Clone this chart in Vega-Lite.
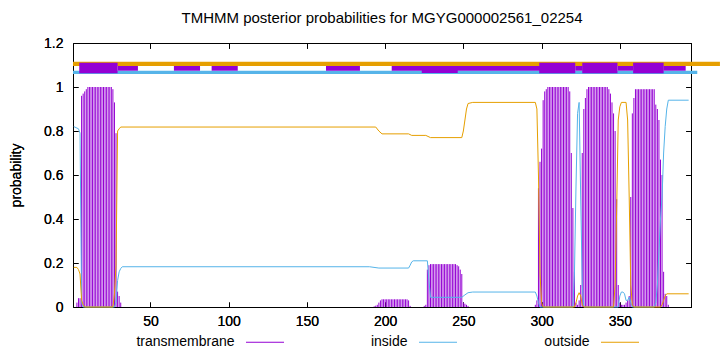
{
  "$schema": "https://vega.github.io/schema/vega-lite/v6.json",
  "width": 618,
  "height": 264,
  "autosize": {"type": "none"},
  "padding": {"left": 73, "top": 43, "right": 29, "bottom": 45},
  "background": "white",
  "title": {"text": "TMHMM posterior probabilities for MGYG000002561_02254", "font": "Liberation Sans", "fontSize": 15, "fontWeight": "normal", "color": "#000", "offset": 10, "anchor": "middle"},
  "config": {
    "view": {"stroke": "#000", "strokeWidth": 1},
    "axis": {"domain": false, "grid": false, "tickColor": "#000", "tickWidth": 1, "tickSize": -5, "labelFont": "Liberation Sans", "labelFontSize": 14, "labelColor": "#000", "titleFont": "Liberation Sans", "titleFontSize": 14, "titleFontWeight": "normal", "titleColor": "#000"}
  },
  "datasets": {
    "outsideBand": [{"a": 0.5, "b": 414, "y": 1.1055}],
    "insideBand": [{"a": 0.5, "b": 399.5, "y": 1.0668}],
    "thinBand": [
      {"a": 29, "b": 42, "lo": 1.0741, "hi": 1.0955},
      {"a": 65, "b": 81.7, "lo": 1.0741, "hi": 1.0955},
      {"a": 89.1, "b": 105.8, "lo": 1.0741, "hi": 1.0955},
      {"a": 162.2, "b": 183.9, "lo": 1.0741, "hi": 1.0955},
      {"a": 204.2, "b": 299.6, "lo": 1.0741, "hi": 1.0955},
      {"a": 223.4, "b": 246.4, "lo": 1.064, "hi": 1.0955},
      {"a": 321.5, "b": 326.3, "lo": 1.0741, "hi": 1.0955},
      {"a": 348.5, "b": 358.6, "lo": 1.0741, "hi": 1.0955},
      {"a": 377.8, "b": 392.1, "lo": 1.0741, "hi": 1.0955}
    ],
    "thickBand": [
      {"a": 4.5, "b": 29, "lo": 1.0623, "hi": 1.1105},
      {"a": 298.5, "b": 321.5, "lo": 1.0623, "hi": 1.1105},
      {"a": 326, "b": 348.5, "lo": 1.0623, "hi": 1.1105},
      {"a": 358.5, "b": 378, "lo": 1.0623, "hi": 1.1105}
    ],
    "tm": [
      {"pos": 3, "p": 0.02}, {"pos": 4, "p": 0.04}, {"pos": 5, "p": 0.04}, {"pos": 6, "p": 0.96}, {"pos": 7, "p": 0.97}, {"pos": 8, "p": 0.98}, {"pos": 9, "p": 0.99},
      {"pos": 10, "p": 1}, {"pos": 11, "p": 1}, {"pos": 12, "p": 1}, {"pos": 13, "p": 1}, {"pos": 14, "p": 1}, {"pos": 15, "p": 1}, {"pos": 16, "p": 1}, {"pos": 17, "p": 1},
      {"pos": 18, "p": 1}, {"pos": 19, "p": 1}, {"pos": 20, "p": 1}, {"pos": 21, "p": 1}, {"pos": 22, "p": 1}, {"pos": 23, "p": 1}, {"pos": 24, "p": 1}, {"pos": 25, "p": 1},
      {"pos": 26, "p": 0.99}, {"pos": 27, "p": 0.93}, {"pos": 28, "p": 0.79}, {"pos": 29, "p": 0.07}, {"pos": 30, "p": 0.05}, {"pos": 31, "p": 0.02},
      {"pos": 193, "p": 0.003}, {"pos": 194, "p": 0.006}, {"pos": 195, "p": 0.01}, {"pos": 196, "p": 0.02}, {"pos": 197, "p": 0.03},
      {"pos": 198, "p": 0.035}, {"pos": 199, "p": 0.035}, {"pos": 200, "p": 0.035}, {"pos": 201, "p": 0.035}, {"pos": 202, "p": 0.035}, {"pos": 203, "p": 0.035},
      {"pos": 204, "p": 0.035}, {"pos": 205, "p": 0.035}, {"pos": 206, "p": 0.035}, {"pos": 207, "p": 0.035}, {"pos": 208, "p": 0.035}, {"pos": 209, "p": 0.035},
      {"pos": 210, "p": 0.035}, {"pos": 211, "p": 0.035}, {"pos": 212, "p": 0.035}, {"pos": 213, "p": 0.035}, {"pos": 214, "p": 0.035}, {"pos": 215, "p": 0.03}, {"pos": 216, "p": 0.005},
      {"pos": 225, "p": 0.005}, {"pos": 226, "p": 0.01}, {"pos": 227, "p": 0.17}, {"pos": 228, "p": 0.19},
      {"pos": 229, "p": 0.195}, {"pos": 230, "p": 0.195}, {"pos": 231, "p": 0.195}, {"pos": 232, "p": 0.195}, {"pos": 233, "p": 0.195}, {"pos": 234, "p": 0.195},
      {"pos": 235, "p": 0.195}, {"pos": 236, "p": 0.195}, {"pos": 237, "p": 0.195}, {"pos": 238, "p": 0.195}, {"pos": 239, "p": 0.195}, {"pos": 240, "p": 0.195},
      {"pos": 241, "p": 0.195}, {"pos": 242, "p": 0.195}, {"pos": 243, "p": 0.195}, {"pos": 244, "p": 0.195}, {"pos": 245, "p": 0.195}, {"pos": 246, "p": 0.19},
      {"pos": 247, "p": 0.185}, {"pos": 248, "p": 0.17}, {"pos": 249, "p": 0.15}, {"pos": 250, "p": 0.02}, {"pos": 251, "p": 0.015}, {"pos": 252, "p": 0.01}, {"pos": 253, "p": 0.005},
      {"pos": 296, "p": 0.01}, {"pos": 297, "p": 0.03}, {"pos": 298, "p": 0.54}, {"pos": 299, "p": 0.66}, {"pos": 300, "p": 0.72}, {"pos": 301, "p": 0.94}, {"pos": 302, "p": 0.98}, {"pos": 303, "p": 0.99},
      {"pos": 304, "p": 1}, {"pos": 305, "p": 1}, {"pos": 306, "p": 1}, {"pos": 307, "p": 1}, {"pos": 308, "p": 1}, {"pos": 309, "p": 1}, {"pos": 310, "p": 1},
      {"pos": 311, "p": 1}, {"pos": 312, "p": 1}, {"pos": 313, "p": 1}, {"pos": 314, "p": 1}, {"pos": 315, "p": 1}, {"pos": 316, "p": 1}, {"pos": 317, "p": 1},
      {"pos": 318, "p": 0.98}, {"pos": 319, "p": 0.7}, {"pos": 320, "p": 0.45}, {"pos": 321, "p": 0.16}, {"pos": 322, "p": 0.02}, {"pos": 323, "p": 0.01},
      {"pos": 324, "p": 0.03}, {"pos": 325, "p": 0.1}, {"pos": 326, "p": 0.7}, {"pos": 327, "p": 0.9}, {"pos": 328, "p": 0.95}, {"pos": 329, "p": 0.99},
      {"pos": 330, "p": 1}, {"pos": 331, "p": 1}, {"pos": 332, "p": 1}, {"pos": 333, "p": 1}, {"pos": 334, "p": 1}, {"pos": 335, "p": 1}, {"pos": 336, "p": 1},
      {"pos": 337, "p": 1}, {"pos": 338, "p": 1}, {"pos": 339, "p": 1}, {"pos": 340, "p": 1}, {"pos": 341, "p": 1}, {"pos": 342, "p": 1},
      {"pos": 343, "p": 0.99}, {"pos": 344, "p": 0.97}, {"pos": 345, "p": 0.93}, {"pos": 346, "p": 0.88}, {"pos": 347, "p": 0.8}, {"pos": 348, "p": 0.49}, {"pos": 349, "p": 0.1}, {"pos": 350, "p": 0.02},
      {"pos": 351, "p": 0.01}, {"pos": 352, "p": 0.01}, {"pos": 353, "p": 0.01}, {"pos": 354, "p": 0.02}, {"pos": 355, "p": 0.03}, {"pos": 356, "p": 0.05},
      {"pos": 357, "p": 0.5}, {"pos": 358, "p": 0.88}, {"pos": 359, "p": 0.95},
      {"pos": 360, "p": 0.99}, {"pos": 361, "p": 0.99}, {"pos": 362, "p": 0.99}, {"pos": 363, "p": 0.99}, {"pos": 364, "p": 0.99}, {"pos": 365, "p": 0.99}, {"pos": 366, "p": 0.99},
      {"pos": 367, "p": 0.99}, {"pos": 368, "p": 0.99}, {"pos": 369, "p": 0.99}, {"pos": 370, "p": 0.99}, {"pos": 371, "p": 0.99}, {"pos": 372, "p": 0.99},
      {"pos": 373, "p": 0.92}, {"pos": 374, "p": 0.9}, {"pos": 375, "p": 0.85}, {"pos": 376, "p": 0.67}, {"pos": 377, "p": 0.6}, {"pos": 378, "p": 0.16}, {"pos": 379, "p": 0.06}, {"pos": 380, "p": 0.05}, {"pos": 381, "p": 0.01}
    ],
    "probs": [
      {"series": "inside", "pos": 1, "p": 0.82}, {"series": "inside", "pos": 4, "p": 0.81}, {"series": "inside", "pos": 5, "p": 0.79}, {"series": "inside", "pos": 6, "p": 0.02},
      {"series": "inside", "pos": 7, "p": 0}, {"series": "inside", "pos": 27, "p": 0}, {"series": "inside", "pos": 28, "p": 0.02}, {"series": "inside", "pos": 29, "p": 0.12},
      {"series": "inside", "pos": 30, "p": 0.16}, {"series": "inside", "pos": 31, "p": 0.175}, {"series": "inside", "pos": 32, "p": 0.183}, {"series": "inside", "pos": 190, "p": 0.183},
      {"series": "inside", "pos": 196, "p": 0.177}, {"series": "inside", "pos": 215, "p": 0.177}, {"series": "inside", "pos": 216, "p": 0.19}, {"series": "inside", "pos": 217, "p": 0.205},
      {"series": "inside", "pos": 218, "p": 0.21}, {"series": "inside", "pos": 227, "p": 0.21}, {"series": "inside", "pos": 228, "p": 0.12}, {"series": "inside", "pos": 229, "p": 0.044},
      {"series": "inside", "pos": 249, "p": 0.044}, {"series": "inside", "pos": 251, "p": 0.055}, {"series": "inside", "pos": 253, "p": 0.065}, {"series": "inside", "pos": 256, "p": 0.068},
      {"series": "inside", "pos": 296, "p": 0.068}, {"series": "inside", "pos": 297, "p": 0.05}, {"series": "inside", "pos": 298, "p": 0.02}, {"series": "inside", "pos": 299, "p": 0},
      {"series": "inside", "pos": 320, "p": 0}, {"series": "inside", "pos": 321, "p": 0.15}, {"series": "inside", "pos": 322, "p": 0.55}, {"series": "inside", "pos": 323, "p": 0.88},
      {"series": "inside", "pos": 324, "p": 0.93}, {"series": "inside", "pos": 325, "p": 0.5}, {"series": "inside", "pos": 326, "p": 0.1}, {"series": "inside", "pos": 327, "p": 0},
      {"series": "inside", "pos": 349, "p": 0}, {"series": "inside", "pos": 350, "p": 0.05}, {"series": "inside", "pos": 351, "p": 0.068}, {"series": "inside", "pos": 352, "p": 0.068},
      {"series": "inside", "pos": 353, "p": 0.06}, {"series": "inside", "pos": 354, "p": 0.03}, {"series": "inside", "pos": 355, "p": 0.03}, {"series": "inside", "pos": 356, "p": 0.045},
      {"series": "inside", "pos": 357, "p": 0.02}, {"series": "inside", "pos": 358, "p": 0}, {"series": "inside", "pos": 372, "p": 0}, {"series": "inside", "pos": 373, "p": 0.02},
      {"series": "inside", "pos": 374, "p": 0.1}, {"series": "inside", "pos": 375, "p": 0.25}, {"series": "inside", "pos": 376, "p": 0.4}, {"series": "inside", "pos": 377, "p": 0.5},
      {"series": "inside", "pos": 378, "p": 0.7}, {"series": "inside", "pos": 379, "p": 0.82}, {"series": "inside", "pos": 380, "p": 0.9}, {"series": "inside", "pos": 381, "p": 0.94},
      {"series": "inside", "pos": 394, "p": 0.94},
      {"series": "outside", "pos": 1, "p": 0.18}, {"series": "outside", "pos": 3, "p": 0.18}, {"series": "outside", "pos": 4, "p": 0.17}, {"series": "outside", "pos": 5, "p": 0.15},
      {"series": "outside", "pos": 6, "p": 0.03}, {"series": "outside", "pos": 7, "p": 0.01}, {"series": "outside", "pos": 8, "p": 0}, {"series": "outside", "pos": 26, "p": 0},
      {"series": "outside", "pos": 27, "p": 0.06}, {"series": "outside", "pos": 28, "p": 0.19}, {"series": "outside", "pos": 29, "p": 0.8}, {"series": "outside", "pos": 30, "p": 0.81},
      {"series": "outside", "pos": 31, "p": 0.818}, {"series": "outside", "pos": 194, "p": 0.818}, {"series": "outside", "pos": 196, "p": 0.8}, {"series": "outside", "pos": 198, "p": 0.787},
      {"series": "outside", "pos": 215, "p": 0.787}, {"series": "outside", "pos": 217, "p": 0.78}, {"series": "outside", "pos": 226, "p": 0.78}, {"series": "outside", "pos": 229, "p": 0.77},
      {"series": "outside", "pos": 249, "p": 0.77}, {"series": "outside", "pos": 250, "p": 0.8}, {"series": "outside", "pos": 251, "p": 0.85}, {"series": "outside", "pos": 252, "p": 0.9},
      {"series": "outside", "pos": 253, "p": 0.925}, {"series": "outside", "pos": 256, "p": 0.93}, {"series": "outside", "pos": 296, "p": 0.93}, {"series": "outside", "pos": 297, "p": 0.9},
      {"series": "outside", "pos": 298, "p": 0.6}, {"series": "outside", "pos": 299, "p": 0.15}, {"series": "outside", "pos": 300, "p": 0.02}, {"series": "outside", "pos": 301, "p": 0},
      {"series": "outside", "pos": 321, "p": 0}, {"series": "outside", "pos": 322, "p": 0.02}, {"series": "outside", "pos": 323, "p": 0.05}, {"series": "outside", "pos": 324, "p": 0.065},
      {"series": "outside", "pos": 325, "p": 0.05}, {"series": "outside", "pos": 326, "p": 0.01}, {"series": "outside", "pos": 327, "p": 0}, {"series": "outside", "pos": 346, "p": 0},
      {"series": "outside", "pos": 347, "p": 0.1}, {"series": "outside", "pos": 348, "p": 0.45}, {"series": "outside", "pos": 349, "p": 0.85}, {"series": "outside", "pos": 350, "p": 0.91},
      {"series": "outside", "pos": 351, "p": 0.93}, {"series": "outside", "pos": 354, "p": 0.93}, {"series": "outside", "pos": 355, "p": 0.85}, {"series": "outside", "pos": 356, "p": 0.5},
      {"series": "outside", "pos": 357, "p": 0.1}, {"series": "outside", "pos": 358, "p": 0.01}, {"series": "outside", "pos": 359, "p": 0}, {"series": "outside", "pos": 376, "p": 0},
      {"series": "outside", "pos": 377, "p": 0.01}, {"series": "outside", "pos": 378, "p": 0.03}, {"series": "outside", "pos": 379, "p": 0.05}, {"series": "outside", "pos": 380, "p": 0.06},
      {"series": "outside", "pos": 394, "p": 0.06}
    ]
  },
  "layer": [
    {
      "data": {"name": "outsideBand"},
      "mark": {"type": "rule", "color": "#e69f00", "strokeWidth": 4.3},
      "encoding": {
        "x": {"field": "a", "type": "quantitative", "scale": {"domain": [0.5, 395.5], "nice": false, "zero": false}, "axis": {"orient": "top", "labels": false, "title": null, "values": [50, 100, 150, 200, 250, 300, 350]}},
        "x2": {"field": "b"},
        "y": {"field": "y", "type": "quantitative", "scale": {"domain": [0, 1.2], "nice": false, "zero": true}, "axis": {"orient": "right", "labels": false, "title": null, "values": [0, 0.2, 0.4, 0.6, 0.8, 1, 1.2]}}
      }
    },
    {
      "data": {"name": "insideBand"},
      "mark": {"type": "rule", "color": "#56b4e9", "strokeWidth": 3.3},
      "encoding": {
        "x": {"field": "a", "type": "quantitative", "axis": {"orient": "top", "labels": false, "title": null, "values": [50, 100, 150, 200, 250, 300, 350]}},
        "x2": {"field": "b"},
        "y": {"field": "y", "type": "quantitative", "axis": {"orient": "right", "labels": false, "title": null, "values": [0, 0.2, 0.4, 0.6, 0.8, 1, 1.2]}}
      }
    },
    {
      "data": {"name": "thinBand"},
      "mark": {"type": "rect", "color": "#9400d3"},
      "encoding": {
        "x": {"field": "a", "type": "quantitative", "axis": {"orient": "top", "labels": false, "title": null, "values": [50, 100, 150, 200, 250, 300, 350]}},
        "x2": {"field": "b"},
        "y": {"field": "lo", "type": "quantitative", "axis": {"orient": "right", "labels": false, "title": null, "values": [0, 0.2, 0.4, 0.6, 0.8, 1, 1.2]}},
        "y2": {"field": "hi"}
      }
    },
    {
      "data": {"name": "thickBand"},
      "mark": {"type": "rect", "color": "#9400d3"},
      "encoding": {
        "x": {"field": "a", "type": "quantitative", "axis": {"orient": "top", "labels": false, "title": null, "values": [50, 100, 150, 200, 250, 300, 350]}},
        "x2": {"field": "b"},
        "y": {"field": "lo", "type": "quantitative", "axis": {"orient": "right", "labels": false, "title": null, "values": [0, 0.2, 0.4, 0.6, 0.8, 1, 1.2]}},
        "y2": {"field": "hi"}
      }
    },
    {
      "data": {"name": "tm"},
      "mark": {"type": "rule", "strokeWidth": 1},
      "encoding": {
        "x": {"field": "pos", "type": "quantitative", "axis": {"orient": "bottom", "title": null, "values": [50, 100, 150, 200, 250, 300, 350], "format": "d", "labelPadding": 12}},
        "y": {"field": "p", "type": "quantitative", "axis": {"orient": "left", "title": "probability", "values": [0, 0.2, 0.4, 0.6, 0.8, 1, 1.2], "format": "~g", "labelPadding": 15, "titlePadding": 20}},
        "y2": {"datum": 0},
        "color": {"datum": "transmembrane", "type": "nominal", "scale": {"domain": ["transmembrane", "inside", "outside"], "range": ["#9400d3", "#56b4e9", "#e69f00"]}}
      }
    },
    {
      "data": {"name": "probs"},
      "mark": {"type": "line", "strokeWidth": 1, "interpolate": "linear"},
      "encoding": {
        "x": {"field": "pos", "type": "quantitative", "axis": {"orient": "bottom", "title": null, "values": [50, 100, 150, 200, 250, 300, 350], "format": "d", "labelPadding": 12}},
        "y": {"field": "p", "type": "quantitative", "axis": {"orient": "left", "title": "probability", "values": [0, 0.2, 0.4, 0.6, 0.8, 1, 1.2], "format": "~g", "labelPadding": 15, "titlePadding": 20}},
        "color": {"field": "series", "type": "nominal", "legend": {"orient": "none", "legendX": 172.5, "legendY": 279.5, "direction": "horizontal", "title": null, "symbolType": "stroke", "symbolSize": 1444, "symbolStrokeWidth": 1, "labelFont": "Liberation Sans", "labelFontSize": 14, "labelColor": "#000", "labelAlign": "right", "labelOffset": -50, "columnPadding": 84}}
      }
    }
  ]
}
